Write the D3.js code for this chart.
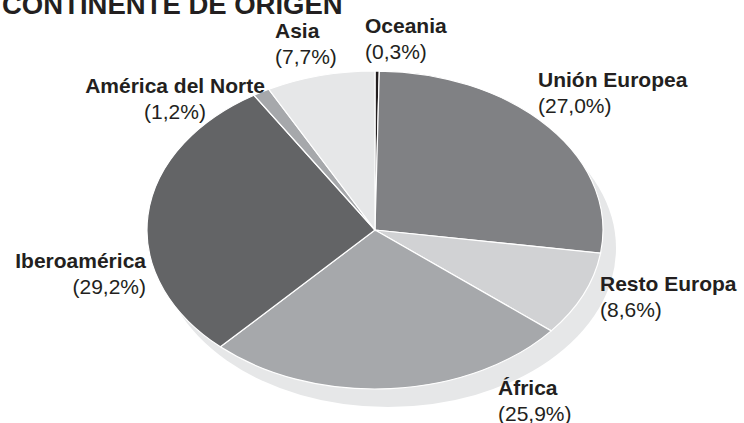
<!DOCTYPE html>
<html>
<head>
<meta charset="utf-8">
<script src="https://cdn.jsdelivr.net/npm/d3@7"></script>
<style>
  html, body { margin: 0; padding: 0; background: #fff; }
  svg { display: block; }
  text { font-family: "Liberation Sans Narrow", "Arial Narrow", "Liberation Sans", sans-serif; fill: #231f20; }
  .name { font-weight: bold; font-size: 21px; }
  .pct { font-size: 21px; }
  .title { font-weight: bold; font-size: 27.5px; }
</style>
</head>
<body>
<div id="chart"></div>
<script>
// data, clockwise from 12 o'clock
const regions = ['Oceania', 'Unión Europea', 'Resto Europa', 'África', 'Iberoamérica', 'América del Norte', 'Asia']
const shares = [0.3, 27.0, 8.6, 25.9, 29.2, 1.2, 7.7]
const shareLabels = ['(0,3%)', '(27,0%)', '(8,6%)', '(25,9%)', '(29,2%)', '(1,2%)', '(7,7%)']
const sliceColors = ['#231f20', '#808184', '#d1d2d4', '#a6a8ab', '#636466', '#a6a8ab', '#e6e7e8']

// label placement: [x, y of name baseline, anchor]
const labelPos = [
  [365, 33, 'start'],
  [538, 87, 'start'],
  [600, 291, 'start'],
  [498, 395, 'start'],
  [146, 268, 'end'],
  [175, 93, 'middle'],
  [275, 38, 'start'],
]

const W = 744, H = 423
const cx = 375, cy = 230, rx = 228, ry = 159
const shadowOffset = { x: 13, y: 18 }

const svg = d3.select('#chart').append('svg')
  .attr('width', W)
  .attr('height', H)

svg.append('text')
  .attr('class', 'title')
  .attr('x', 2)
  .attr('y', 14)
  .text('CONTINENTE DE ORIGEN')

const pie = d3.pie().sort(null).value(d => d)
const arc = d3.arc().innerRadius(0).outerRadius(rx)
const arcs = pie(shares)

// drop shadow below the pie
svg.append('ellipse')
  .attr('cx', cx + shadowOffset.x)
  .attr('cy', cy + shadowOffset.y)
  .attr('rx', rx)
  .attr('ry', ry)
  .attr('fill', '#e6e7e8')

const g = svg.append('g')
  .attr('transform', `translate(${cx},${cy}) scale(1,${ry / rx})`)

g.selectAll('path')
  .data(arcs)
  .join('path')
    .attr('d', arc)
    .attr('fill', (d, i) => sliceColors[i])
    .attr('stroke', '#fff')
    .attr('stroke-width', 1.2)
    .attr('vector-effect', 'non-scaling-stroke')

const labels = svg.append('g')
  .selectAll('g')
  .data(regions)
  .join('g')
    .attr('transform', (d, i) => `translate(${labelPos[i][0]},${labelPos[i][1]})`)
    .attr('text-anchor', (d, i) => labelPos[i][2])

labels.append('text')
  .attr('class', 'name')
  .text(d => d)

labels.append('text')
  .attr('class', 'pct')
  .attr('y', 26)
  .text((d, i) => shareLabels[i])
</script>
</body>
</html>
